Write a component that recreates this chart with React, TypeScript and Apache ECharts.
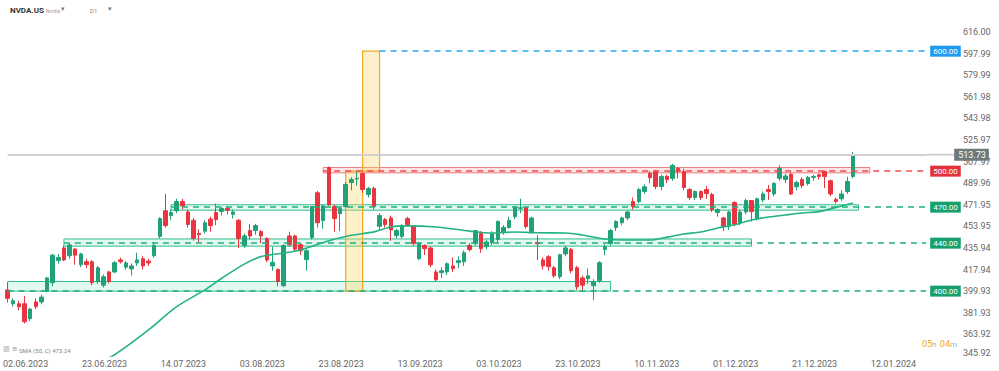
import React, { useEffect, useRef } from "react";
import * as echarts from "echarts";

// Trading days (month label -> day numbers)
const tradingDays: [string, number[]][] = [
  ["06.2023", [2, 5, 6, 7, 8, 9, 12, 13, 14, 15, 16, 20, 21, 22, 23, 26, 27, 28, 29, 30]],
  ["07.2023", [3, 5, 6, 7, 10, 11, 12, 13, 14, 17, 18, 19, 20, 21, 24, 25, 26, 27, 28, 31]],
  ["08.2023", [1, 2, 3, 4, 7, 8, 9, 10, 11, 14, 15, 16, 17, 18, 21, 22, 23, 24, 25, 28, 29, 30, 31]],
  ["09.2023", [1, 5, 6, 7, 8, 11, 12, 13, 14, 15, 18, 19, 20, 21, 22, 25, 26, 27, 28, 29]],
  ["10.2023", [2, 3, 4, 5, 6, 9, 10, 11, 12, 13, 16, 17, 18, 19, 20, 23, 24, 25, 26, 27, 30, 31]],
  ["11.2023", [1, 2, 3, 6, 7, 8, 9, 10, 13, 14, 15, 16, 17, 20, 21, 22, 24, 27, 28, 29, 30]],
  ["12.2023", [1, 4, 5, 6, 7, 8, 11, 12, 13, 14, 15, 18, 19, 20, 21, 22, 26, 27, 28, 29]],
  ["01.2024", [2, 3, 4, 5, 8, 9, 10, 11, 12, 16, 17, 18, 19, 22, 23, 24, 25, 26]],
];

// [open, close, low, high]
const ohlc: number[][] = [
  [401, 394, 390.5, 407], [389.5, 392, 387, 394], [389.5, 387, 384, 392], [389.5, 374.5, 373, 396],
  [377, 385, 375, 386], [391, 387, 385, 394], [391, 395, 389, 397], [400, 411, 399, 412],
  [407, 430, 404, 431], [425.5, 428, 423, 431], [436, 426, 425, 438], [429.5, 438.5, 427, 440],
  [435, 430, 422, 436], [422, 431, 420, 432], [424.5, 422, 419, 427], [424.5, 407, 405, 426],
  [408, 419.5, 406, 421], [405, 412, 403, 414], [416, 408, 406.5, 417], [416, 423.7, 415, 425],
  [426, 424.5, 423, 428], [420, 423.5, 418, 425], [418.5, 421, 413, 423], [423.5, 426, 421, 432],
  [427, 421, 418, 429], [425, 423.5, 421, 427], [429.5, 438, 428, 441], [445.6, 460.5, 444, 461.5],
  [467, 454.6, 453, 481], [463, 465.5, 459, 468], [467, 474.7, 465, 477], [474.7, 471, 468, 477],
  [466, 455.5, 453, 468], [459, 444, 442, 461], [448, 447, 440.5, 451.5], [450, 457, 448, 459],
  [460, 454.6, 449.5, 462], [465.5, 459.6, 455, 473], [466.4, 468.8, 463, 470], [469, 467.5, 464, 471],
  [464, 466, 460.5, 468], [459, 444, 436, 460], [438, 446, 436, 448], [450.5, 446, 443, 456],
  [450.5, 454.6, 447, 456], [449.6, 446, 440, 451], [443.8, 426, 424, 445], [421, 424, 417, 437],
  [418, 408, 404, 419], [404.5, 438, 403.5, 439], [446, 438.7, 437, 449.5], [446, 435, 433, 447],
  [438.7, 433.7, 430, 440], [426.2, 433.7, 417, 435], [444.6, 470.5, 443, 471], [482, 457, 453, 483.5],
  [458.8, 471, 452, 472], [503, 472, 471, 504], [470.5, 460.5, 449.5, 472], [464.6, 468.8, 450, 470],
  [470.5, 488.9, 469, 491], [490.6, 493, 484, 495], [493.5, 494, 488, 500], [498, 484.7, 482, 499],
  [480.5, 485.5, 478, 487], [485.5, 470.5, 468, 487], [454, 463, 451, 465], [459.6, 455.5, 453, 461],
  [461, 451, 442, 463], [446.3, 450.5, 444, 452], [445.5, 454.6, 444, 456], [460.5, 455.5, 454, 462],
  [453.8, 439.6, 438, 455], [427, 439.6, 426, 441], [438, 435.4, 430, 439], [436, 422, 420, 437],
  [416, 409.5, 408, 418], [415.4, 417, 411, 420], [416, 422.8, 413.4, 424], [421, 418.7, 416, 428],
  [423.7, 425.4, 419, 429], [424.5, 432, 421, 434], [438, 434.6, 433, 440], [439.6, 450.5, 438, 451],
  [448, 435.4, 432, 450], [437, 441, 435, 443], [440.4, 448, 438, 450], [443, 458, 440, 459],
  [449, 453, 447, 455], [453, 459, 452, 462], [462, 469.7, 460, 471], [469, 469.5, 465, 477],
  [469.7, 453.8, 452, 470], [449.6, 461, 448, 462], [440.5, 439.5, 426, 446.5], [426, 421, 418, 428],
  [428.7, 420.4, 417, 430], [419.5, 412.8, 411, 421], [412, 430.4, 410, 431], [431, 436, 429, 438],
  [434.6, 417, 415, 436], [419.5, 403.6, 401, 421], [411, 405, 401, 413], [410.3, 412.8, 406, 419],
  [404.5, 407.8, 392.5, 410], [408.7, 423.7, 407, 425], [434.6, 437, 430, 439], [439.6, 450.5, 438, 452],
  [453, 458, 450, 459], [457, 461, 455, 462], [461, 466, 459, 467], [474.7, 470.5, 468, 478],
  [474.7, 484.7, 473, 486], [483, 487, 481, 489], [498, 494.5, 490, 500], [499.8, 487.2, 485, 501],
  [487.2, 495.6, 484, 497], [495.6, 493, 490, 497], [494, 504.8, 492, 506], [502.3, 499.8, 494, 503.5],
  [499.8, 486.4, 484, 502], [484.7, 478, 476, 486], [478, 483, 476, 484], [483, 478, 476, 484],
  [484.7, 481.4, 477, 487.5], [480.5, 468, 466, 482], [465.5, 468, 462, 469], [461, 454, 450, 462],
  [454, 466, 451, 467], [473.8, 455.5, 454, 475], [457, 466, 455, 468], [466, 475.5, 464, 477],
  [475.5, 466.3, 457.9, 476], [461, 477, 459, 478], [476, 481, 474, 483], [484.7, 483, 476, 488.5],
  [481, 489.7, 479, 491], [494, 502.3, 492, 505], [493, 496, 490, 498], [497.3, 481, 480, 499],
  [487, 490.6, 484, 492], [493, 488, 486, 495], [489.7, 494.8, 488, 496], [494.8, 495.6, 492, 497],
  [497, 495.6, 493, 498], [499.8, 495.6, 486, 500.5], [492, 481, 479, 493], [476.4, 474.7, 473, 478],
  [477, 481, 475, 484], [483, 491.4, 481, 495.4], [495.6, 513.73, 494, 516],
];

// SMA(50) points: bar index -> value
const smaIdx = [16, 19, 25, 30, 35, 38, 42, 45, 49, 52, 57, 61, 65, 68, 71, 76, 82, 86, 90, 94, 99, 102, 106, 110, 114, 117, 120, 123, 126, 129, 132, 135, 138, 141, 144, 147, 150];
const smaVal = [341, 347, 367.6, 387, 401, 410.7, 422.5, 428.8, 431.8, 434.3, 442, 446.5, 449.4, 453.5, 454.4, 453.5, 450, 448.4, 449.3, 448.6, 448.5, 446.8, 443.4, 442.6, 442.6, 445, 447.6, 449.3, 452.6, 455.3, 459.3, 461.8, 463.5, 465.1, 466.3, 469.8, 473.5];

const yTickLabels = ["345.92", "363.92", "381.93", "399.93", "417.94", "435.94", "453.95", "471.95", "489.96", "507.97", "525.97", "543.98", "561.98", "579.99", "597.99", "616.00"];
const yMin = 345.92;
const yMax = 616.0;

const currentPrice = 513.73;
// horizontal levels: [value, startBar]
const levelValues = [600, 500, 470, 440, 400];
const levelStarts = [66, 56, 29, 10, 0];
const levelColors = ["#2aa8f0", "#ef4a52", "#1fb07a", "#1fb07a", "#1fb07a"];
const levelLabelBg = ["#1e9bf0", "#e5323a", "#16a06d", "#16a06d", "#16a06d"];

// zones: [startBar, endBar, low, high]
const greenZones = [
  [0, 107, 400, 408],
  [10, 132, 437.5, 443.5],
  [29, 151, 467.5, 472],
];
const redZone = [56, 153, 498.6, 503];
const yellowZones = [
  [60, 63, 400, 500],
  [63, 66, 500, 600],
];
const smaLabel = "SMA (50, C) 473.24";

const GREEN = "#21a179";
const RED = "#e8353f";

export default function App() {
  const ref = useRef<HTMLDivElement>(null);
  useEffect(() => {
    if (!ref.current) return;
    const chart = echarts.init(ref.current, null, { renderer: "svg" });
    const dates: string[] = [];
    tradingDays.forEach(([m, ds]) => ds.forEach((d) => dates.push(`${d < 10 ? "0" + d : d}.${m}`)));
    const last = dates.length - 1;

    const markLineData: any[] = levelValues.map((v, k) => [
      {
        coord: [dates[levelStarts[k]], v],
        lineStyle: { color: levelColors[k], type: [6, 5], width: 1.5 },
        label: {
          show: true,
          position: "end",
          distance: 4,
          formatter: v.toFixed(2),
          backgroundColor: levelLabelBg[k],
          color: "#fff",
          fontSize: 8,
          fontFamily: "Roboto",
          padding: [2, 3, 1, 3],
        },
      },
      { coord: [dates[last], v] },
    ]);
    markLineData.push([
      {
        coord: [dates[0], currentPrice],
        lineStyle: { color: "#d0d0d0", type: "solid", width: 2 },
        label: {
          show: true,
          position: "end",
          distance: 0,
          formatter: `{l|}{t|${currentPrice.toFixed(2)}}`,
          rich: {
            l: { width: 28, height: 2, backgroundColor: "#d0d0d0" },
            t: {
              backgroundColor: "#6e7a7b",
              color: "#fff",
              fontSize: 9,
              fontFamily: "Roboto",
              padding: [2, 3, 1, 4],
            },
          },
        },
      },
      { coord: [dates[last], currentPrice] },
    ]);

    const markAreaData: any[] = [];
    greenZones.forEach(([a, b, lo, hi]) =>
      markAreaData.push([
        { coord: [dates[a], lo], itemStyle: { color: "rgba(40,200,140,0.13)", borderColor: "#2fbf8a", borderWidth: 1 } },
        { coord: [dates[b], hi] },
      ])
    );
    markAreaData.push([
      { coord: [dates[redZone[0]], redZone[2]], itemStyle: { color: "rgba(240,90,90,0.15)", borderColor: "#f07a7a", borderWidth: 1 } },
      { coord: [dates[redZone[1]], redZone[3]] },
    ]);
    yellowZones.forEach(([a, b, lo, hi]) =>
      markAreaData.push([
        { coord: [dates[a], lo], itemStyle: { color: "rgba(248,215,110,0.35)", borderColor: "#f5a623", borderWidth: 1.2 } },
        { coord: [dates[b], hi] },
      ])
    );

    const option: any = {
      animation: false,
      backgroundColor: "#ffffff",
      grid: { left: 1.5, right: 70, top: 32, bottom: 15, containLabel: false },
      xAxis: {
        type: "category",
        data: dates,
        boundaryGap: true,
        axisLine: { show: false },
        axisTick: { show: false },
        splitLine: { show: false },
        axisLabel: {
          interval: (i: number) => i % 14 === 0,
          color: "#666",
          fontSize: 9,
          fontFamily: "Roboto",
          margin: 3,
          padding: [0, 0, 0, 36],
          hideOverlap: false,
        },
      },
      yAxis: [
        { type: "value", min: yMin, max: yMax, show: false },
        {
          type: "category",
          data: yTickLabels,
          boundaryGap: false,
          position: "right",
          axisLine: { show: false },
          axisTick: { show: false },
          splitLine: { show: false },
          axisLabel: {
            interval: 0,
            margin: 34,
            align: "left",
            color: "#666",
            fontSize: 9,
            fontFamily: "Roboto",
            formatter: (v: string, i: number) => (i === 0 ? `{b|${v}}` : v),
            rich: { b: { color: "#666", fontSize: 9, fontFamily: "Roboto", padding: [0, 0, 7, 0] } },
          },
        },
      ],
      series: [
        {
          type: "candlestick",
          yAxisIndex: 0,
          data: ohlc,
          barWidth: 4,
          itemStyle: { color: GREEN, color0: RED, borderColor: GREEN, borderColor0: RED, borderWidth: 1 },
          markLine: { silent: true, symbol: ["none", "none"], data: markLineData },
          markArea: { silent: true, data: markAreaData },
        },
        {
          type: "line",
          yAxisIndex: 0,
          data: smaIdx.map((i, k) => [dates[i], smaVal[k]]),
          smooth: 0.3,
          symbol: "none",
          lineStyle: { color: "#22b37f", width: 1.6 },
          z: 3,
        },
      ],
      graphic: [
        { type: "text", left: 10, top: 6, style: { text: "NVDA.US", font: "bold 8px Roboto", fill: "#333" } },
        { type: "text", left: 46, top: 8, style: { text: "Nvidia", font: "5px Roboto", fill: "#999" } },
        { type: "text", left: 61, top: 5, style: { text: "▾", font: "7px DejaVu Sans", fill: "#777" } },
        { type: "text", left: 90, top: 7, style: { text: "D1", font: "6px Roboto", fill: "#888" } },
        { type: "text", left: 108, top: 5, style: { text: "▾", font: "7px DejaVu Sans", fill: "#777" } },
        { type: "text", left: 3, top: 345, style: { text: "▥ ≡", font: "7px DejaVu Sans", fill: "#999" } },
        { type: "text", left: 19, top: 347, style: { text: smaLabel, font: "6px Roboto", fill: "#888" } },
        {
          type: "text",
          left: 922,
          top: 338,
          style: {
            text: "{o|05}{g|h} {o|04}{g|m}",
            rich: {
              o: { fill: "#f5a623", font: "9px Roboto" },
              g: { fill: "#b0b0b0", font: "8px Roboto" },
            },
          },
        },
      ],
    };
    chart.setOption(option);
    return () => chart.dispose();
  }, []);
  return (
    <div
      ref={ref}
      style={{ position: "fixed", left: 0, top: 0, width: 999, height: 371, background: "#fff" }}
    />
  );
}
